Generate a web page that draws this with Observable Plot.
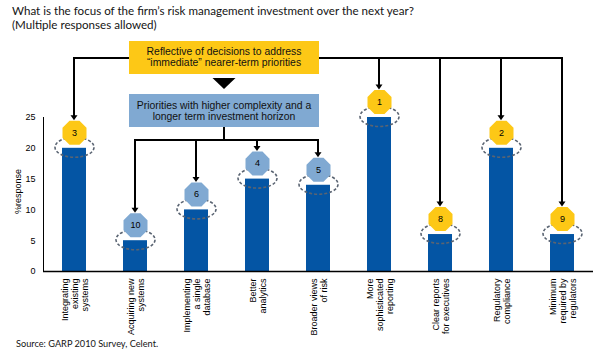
<!DOCTYPE html>
<html>
<head>
<meta charset="utf-8">
<script src="https://cdn.jsdelivr.net/npm/d3@7"></script>
<script src="https://cdn.jsdelivr.net/npm/@observablehq/plot@0.6"></script>
<style>
  body { margin: 0; background: #fff; width: 599px; height: 355px; overflow: hidden; }
  #title { height: 36px; padding: 4px 0 0 12px; font: 11.6px Lato, "Open Sans", sans-serif; line-height: 14px; color: #141414; }
  #caption { padding: 3px 0 0 16px; font: 9.2px Lato, "Open Sans", sans-serif; color: #141414; }
  #chart svg { display: block; }
</style>
</head>
<body>
<div id="title">What is the focus of the firm’s risk management investment over the next year?<br>(Multiple responses allowed)</div>
<div id="chart"></div>
<div id="caption">Source: GARP 2010 Survey, Celent.</div>
<script>
const categories = [
  "Integrating\nexisting\nsystems",
  "Acquiring new\nsystems",
  "Implementing\na single\ndatabase",
  "Better\nanalytics",
  "Broader views\nof risk",
  "More\nsophisticated\nreporting",
  "Clear reports\nfor executives",
  "Regulatory\ncompliance",
  "Minimum\nrequired by\nregulators"
];
const values = [20, 5, 10, 15, 14, 25, 6, 20, 6];
const ranks = [3, 10, 6, 4, 5, 1, 8, 2, 9];
const groups = ["near", "long", "long", "long", "long", "near", "near", "near", "near"];
const yTicks = [0, 5, 10, 15, 20, 25];
const nearText = ["Reflective of decisions to address", "\u201cimmediate\u201d nearer-term priorities"];
const longText = ["Priorities with higher complexity and a", "longer term investment horizon"];
const yLabel = "%response";

const YELLOW = "#FDC816", LIGHTBLUE = "#80A9D2", BAR = "#0455A4", DASH = "#5A6472";
const groupColor = {near: YELLOW, long: LIGHTBLUE};

const rows = categories.map((c, i) => ({cat: c, value: values[i], rank: ranks[i], group: groups[i]}));

const octagon = {
  draw(ctx) {
    const h = 12, s = 12 * Math.tan(Math.PI / 8);
    ctx.moveTo(-s, -h); ctx.lineTo(s, -h); ctx.lineTo(h, -s); ctx.lineTo(h, s);
    ctx.lineTo(s, h); ctx.lineTo(-s, h); ctx.lineTo(-h, s); ctx.lineTo(-h, -s); ctx.closePath();
  }
};
const ellipse = {
  draw(ctx) {
    const rx = 19.5, ry = 10, k = 0.5523;
    ctx.moveTo(rx, 0);
    ctx.bezierCurveTo(rx, ry * k, rx * k, ry, 0, ry);
    ctx.bezierCurveTo(-rx * k, ry, -rx, ry * k, -rx, 0);
    ctx.bezierCurveTo(-rx, -ry * k, -rx * k, -ry, 0, -ry);
    ctx.bezierCurveTo(rx * k, -ry, rx, -ry * k, rx, 0);
    ctx.closePath();
  }
};

const OCT_DY = -15.5;

const chart = Plot.plot({
  width: 599,
  height: 295,
  marginLeft: 43,
  marginRight: 6,
  marginTop: 77,
  marginBottom: 64,
  style: {fontFamily: "'Liberation Sans', Arial, sans-serif", fontSize: "9px", color: "#000", background: "#fff"},
  x: {domain: categories, paddingInner: 0.609, paddingOuter: 0.293, axis: null},
  y: {domain: [0, 25], ticks: yTicks, tickSize: 0, tickPadding: 8, label: null, line: true},
  color: {type: "identity"},
  marks: [
    Plot.barY(rows, {x: "cat", y: "value", fill: BAR}),
    Plot.ruleY([0], {stroke: "#000", strokeWidth: 1.5}),
    Plot.dot(rows, {x: "cat", y: "value", symbol: ellipse, fill: "none", stroke: DASH, strokeWidth: 1.6, strokeDasharray: "3,2", dy: -1}),
    Plot.dot(rows, {x: "cat", y: "value", symbol: octagon, fill: d => groupColor[d.group], stroke: "none", dy: OCT_DY}),
    Plot.text(rows, {x: "cat", y: "value", text: d => String(d.rank), dy: OCT_DY, fontSize: 9, fill: "#000"}),
    Plot.text(categories, {x: d => d, frameAnchor: "bottom", rotate: -90, textAnchor: "end", lineAnchor: "middle", lineHeight: 1.1, dy: 7, fontSize: 9, fill: "#000", ariaLabel: "xlabels"}),
    Plot.text([yLabel], {frameAnchor: "left", rotate: -90, textAnchor: "middle", lineAnchor: "middle", dx: -25, dy: -3, fontSize: 9, fill: "#000"})
  ]
});
document.getElementById("chart").appendChild(chart);

// center-align the multi-line rotated category labels
d3.select(chart).selectAll("g[aria-label='xlabels'] text").each(function () {
  const tspans = this.querySelectorAll("tspan");
  if (!tspans.length) return;
  let max = 0;
  tspans.forEach(t => { max = Math.max(max, t.getComputedTextLength()); });
  this.setAttribute("text-anchor", "middle");
  tspans.forEach(t => t.setAttribute("x", -max / 2));
});

// scales from the plot
const xs = chart.scale("x"), ys = chart.scale("y");
const xBand = d3.scaleBand().domain(xs.domain).range(xs.range)
  .paddingInner(xs.paddingInner).paddingOuter(xs.paddingOuter).align(xs.align ?? 0.5).round(!!xs.round);
const yLin = d3.scaleLinear(ys.domain, ys.range);
const cx = c => xBand(c) + xBand.bandwidth() / 2;
const octTop = v => yLin(v) + OCT_DY - 12;

const svg = d3.select(chart);
const ann = svg.append("g").attr("font-family", "'Liberation Sans', Arial, sans-serif").attr("font-size", 10.4);

// layout of annotation boxes (pixels)
const box = {x0: 129, x1: 319, yTop: 1, yH: 33, bTop: 54, bH: 33, lineY: 18, hubY: 100, triX: 224};

const path = (pts) => ann.append("path").attr("d", d3.line()(pts)).attr("fill", "none").attr("stroke", "#000").attr("stroke-width", 2);
const arrowHead = (x, y) => ann.append("path").attr("d", `M${x - 3.5},${y - 5}L${x + 3.5},${y - 5}L${x},${y}Z`).attr("fill", "#000");

// near-term connectors
const near = rows.filter(r => r.group === "near");
const farRight = near[near.length - 1];
path([[box.x0, box.lineY], [cx(near[0].cat), box.lineY], [cx(near[0].cat), octTop(near[0].value) - 4]]);
arrowHead(cx(near[0].cat), octTop(near[0].value));
path([[box.x1, box.lineY], [cx(farRight.cat), box.lineY]]);
near.slice(1).forEach(r => {
  path([[cx(r.cat), box.lineY - 1], [cx(r.cat), octTop(r.value) - 4]]);
  arrowHead(cx(r.cat), octTop(r.value));
});

// long-term connectors
const longR = rows.filter(r => r.group === "long");
path([[box.triX, box.bTop + box.bH], [box.triX, box.hubY]]);
path([[cx(longR[0].cat) - 1, box.hubY], [cx(longR[longR.length - 1].cat) + 1, box.hubY]]);
longR.forEach(r => {
  path([[cx(r.cat), box.hubY], [cx(r.cat), octTop(r.value) - 4]]);
  arrowHead(cx(r.cat), octTop(r.value));
});

// boxes
ann.append("rect").attr("x", box.x0).attr("y", box.yTop).attr("width", box.x1 - box.x0).attr("height", box.yH).attr("fill", YELLOW);
ann.append("rect").attr("x", box.x0).attr("y", box.bTop).attr("width", box.x1 - box.x0).attr("height", box.bH).attr("fill", LIGHTBLUE);
ann.append("path").attr("d", `M${box.triX - 11.5},${box.yTop + box.yH + 4}L${box.triX + 11.5},${box.yTop + box.yH + 4}L${box.triX},${box.yTop + box.yH + 15}Z`).attr("fill", "#000");
nearText.forEach((t, i) => ann.append("text").attr("x", (box.x0 + box.x1) / 2).attr("y", box.yTop + 14 + i * 11).attr("text-anchor", "middle").attr("fill", "#111").text(t));
longText.forEach((t, i) => ann.append("text").attr("x", (box.x0 + box.x1) / 2).attr("y", box.bTop + 14.5 + i * 11).attr("text-anchor", "middle").attr("fill", "#111").text(t));
</script>
</body>
</html>
